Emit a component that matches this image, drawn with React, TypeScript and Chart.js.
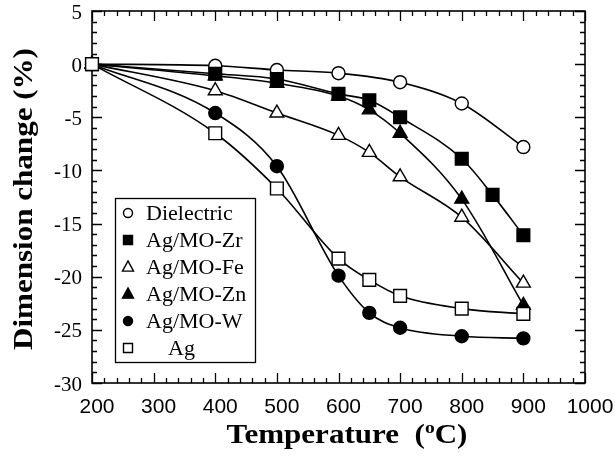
import React, { useEffect, useRef } from 'react';
import { Chart, registerables } from 'chart.js';
Chart.register(...registerables);

// ---- data ----
const seriesNames = ['Dielectric', 'Ag/MO-Zr', 'Ag/MO-Fe', 'Ag/MO-Zn', 'Ag/MO-W', 'Ag'];

const dielectricT = [200, 400, 500, 600, 700, 800, 900];
const dielectricV = [0, -0.15, -0.55, -0.85, -1.7, -3.7, -7.8];

const zrT = [200, 400, 500, 600, 650, 700, 800, 850, 900];
const zrV = [0, -0.9, -1.4, -2.8, -3.4, -5.0, -8.9, -12.3, -16.1];

const feT = [200, 400, 500, 600, 650, 700, 800, 900];
const feV = [0, -2.5, -4.6, -6.7, -8.3, -10.6, -14.4, -20.6];

const znT = [200, 400, 500, 600, 650, 700, 800, 900];
const znV = [0, -1.1, -1.8, -3.0, -4.3, -6.5, -12.7, -22.7];

const wT = [200, 400, 500, 600, 650, 700, 800, 900];
const wV = [0, -4.6, -9.6, -19.9, -23.4, -24.8, -25.6, -25.8];

const agT = [200, 400, 500, 600, 650, 700, 800, 900];
const agV = [0, -6.5, -11.7, -18.3, -20.3, -21.8, -23.0, -23.5];

const xMin = 200, xMax = 1000, xMajor = 100, xMinor = 20;
const yMin = -30, yMax = 5, yMajor = 5, yMinor = 1;

const xTitle = 'Temperature';
const yTitle = 'Dimension change (%)';

const pts = (t: number[], v: number[]) => t.map((x, i) => ({ x, y: v[i] }));

type Marker = { style: string; filled: boolean; r: number };
const markers: Marker[] = [
  { style: 'circle', filled: false, r: 6.5 },
  { style: 'rect', filled: true, r: 9 },
  { style: 'triangle', filled: false, r: 8 },
  { style: 'triangle', filled: true, r: 8 },
  { style: 'circle', filled: true, r: 6.5 },
  { style: 'rect', filled: false, r: 9 },
];

function drawMarker(ctx: CanvasRenderingContext2D, style: string, filled: boolean, cx: number, cy: number, s: number) {
  ctx.beginPath();
  if (style === 'circle') {
    ctx.arc(cx, cy, s, 0, Math.PI * 2);
  } else if (style === 'rect') {
    ctx.rect(cx - s, cy - s, 2 * s, 2 * s);
  } else {
    ctx.moveTo(cx, cy - s * 1.1);
    ctx.lineTo(cx + s, cy + s * 0.75);
    ctx.lineTo(cx - s, cy + s * 0.75);
    ctx.closePath();
  }
  ctx.fillStyle = filled ? '#000' : '#fff';
  ctx.fill();
  ctx.lineWidth = 1.4;
  ctx.strokeStyle = '#000';
  ctx.stroke();
}

const STRETCH = 1.15;

const framePlugin = {
  id: 'frameTicks',
  beforeDatasetsDraw(chart: any) {
    const { ctx, chartArea, scales } = chart;
    const { left, right, top, bottom } = chartArea;
    const x = scales.x, y = scales.y;
    ctx.save();
    ctx.strokeStyle = '#000';
    ctx.lineWidth = 1.6;
    ctx.strokeRect(left, top, right - left, bottom - top);
    ctx.lineWidth = 1.3;
    ctx.beginPath();
    for (let v = xMin; v <= xMax + 1e-6; v += xMinor) {
      const px = Math.round(x.getPixelForValue(v)) + 0.5;
      const len = Math.abs(v % xMajor) < 1e-6 ? 10 : 5;
      ctx.moveTo(px, bottom); ctx.lineTo(px, bottom - len);
      ctx.moveTo(px, top); ctx.lineTo(px, top + len);
    }
    for (let v = yMin; v <= yMax + 1e-6; v += yMinor) {
      const py = Math.round(y.getPixelForValue(v)) + 0.5;
      const len = Math.abs(v % yMajor) < 1e-6 ? 10 : 5;
      ctx.moveTo(left, py); ctx.lineTo(left + len, py);
      ctx.moveTo(right, py); ctx.lineTo(right - len, py);
    }
    ctx.stroke();
    ctx.restore();
  },
  afterDatasetsDraw(chart: any) {
    const { ctx } = chart;
    ctx.save();
    // legend box
    const bx = 115, by = 198, bw = 140, bh = 164;
    ctx.fillStyle = '#fff';
    ctx.fillRect(bx, by, bw, bh);
    ctx.strokeStyle = '#000';
    ctx.lineWidth = 1.3;
    ctx.strokeRect(bx + 0.5, by + 0.5, bw, bh);
    ctx.font = '22px "Liberation Serif"';
    ctx.textBaseline = 'middle';
    ctx.textAlign = 'left';
    seriesNames.forEach((name, i) => {
      const cy = 213 + i * 27;
      const m = markers[i];
      const s = m.style === 'circle' ? 4.5 : m.style === 'rect' ? 4.5 : 5.5;
      drawMarker(ctx, m.style, m.filled, 128, cy, s);
      ctx.fillStyle = '#000';
      const tx = name === 'Ag' ? 168 : 146;
      ctx.fillText(name, tx, cy + 1);
    });
    ctx.restore();
  },
  afterDraw(chart: any) {
    const { ctx, chartArea } = chart;
    ctx.save();
    ctx.fillStyle = '#000';
    // x title with superscript o
    const big = 'bold 27px "Liberation Serif"';
    const small = 'bold 17px "Liberation Serif"';
    const part1 = xTitle + '  (';
    const part2 = 'o';
    const part3 = 'C)';
    ctx.font = big;
    const w1 = ctx.measureText(part1).width;
    const w3 = ctx.measureText(part3).width;
    ctx.font = small;
    const w2 = ctx.measureText(part2).width;
    const total = (w1 + w2 + w3) * STRETCH;
    const cx = 347;
    const base = 443;
    ctx.save();
    ctx.translate(cx - total / 2, base);
    ctx.scale(STRETCH, 1);
    let sx = 0;
    ctx.textBaseline = 'alphabetic';
    ctx.textAlign = 'left';
    ctx.font = big;
    ctx.fillText(part1, sx, 0);
    sx += w1;
    ctx.font = small;
    ctx.fillText(part2, sx, -10);
    sx += w2;
    ctx.font = big;
    ctx.fillText(part3, sx, 0);
    ctx.restore();
    // y title
    ctx.translate(25, (chartArea.top + chartArea.bottom) / 2 + 2);
    ctx.rotate(-Math.PI / 2);
    ctx.scale(STRETCH, 1);
    ctx.textAlign = 'center';
    ctx.textBaseline = 'middle';
    ctx.font = big;
    ctx.fillText(yTitle, 0, 0);
    ctx.restore();
  },
};

const seriesData = [
  pts(dielectricT, dielectricV),
  pts(zrT, zrV),
  pts(feT, feV),
  pts(znT, znV),
  pts(wT, wV),
  pts(agT, agV),
];

export default function App() {
  const ref = useRef<HTMLCanvasElement | null>(null);
  useEffect(() => {
    document.body.style.margin = '0';
    const canvas = ref.current!;
    const chart = new Chart(canvas, {
      type: 'line',
      data: {
        datasets: seriesNames.map((name, i) => ({
          label: name,
          data: seriesData[i],
          borderColor: '#000',
          borderWidth: 1.6,
          backgroundColor: markers[i].filled ? '#000' : '#fff',
          pointBackgroundColor: markers[i].filled ? '#000' : '#fff',
          pointBorderColor: '#000',
          pointBorderWidth: 1.4,
          pointStyle: markers[i].style as any,
          pointRadius: markers[i].r,
          cubicInterpolationMode: 'monotone' as const,
          fill: false,
          clip: false as any,
          order: 5 - i,
        })),
      },
      options: {
        responsive: false,
        animation: false,
        layout: { padding: { top: 11, right: 30, left: 0, bottom: 0 } },
        plugins: { legend: { display: false }, tooltip: { enabled: false }, title: { display: false } },
        scales: {
          x: {
            type: 'linear',
            min: xMin,
            max: xMax,
            grid: { display: false, drawTicks: false },
            border: { display: false },
            ticks: {
              stepSize: xMajor,
              color: '#000',
              font: { family: '"Liberation Sans"', size: 21 },
              padding: 12,
              labelOffset: 5,
              maxRotation: 0,
              autoSkip: false,
              callback: (v: any) => String(v),
            },
            afterFit: (s: any) => { s.height = 75; s.paddingLeft = 0; s.paddingRight = 0; },
          },
          y: {
            type: 'linear',
            min: yMin,
            max: yMax,
            grid: { display: false, drawTicks: false },
            border: { display: false },
            ticks: {
              stepSize: yMajor,
              color: '#000',
              font: { family: '"Liberation Serif"', size: 21 },
              padding: 10,
              labelOffset: 2,
              autoSkip: false,
              callback: (v: any) => String(v),
            },
            afterFit: (s: any) => { s.width = 92; s.paddingTop = 0; s.paddingBottom = 0; },
          },
        },
      },
      plugins: [framePlugin],
    });
    return () => chart.destroy();
  }, []);
  return <canvas ref={ref} width={615} height={458} style={{ display: 'block' }} />;
}
